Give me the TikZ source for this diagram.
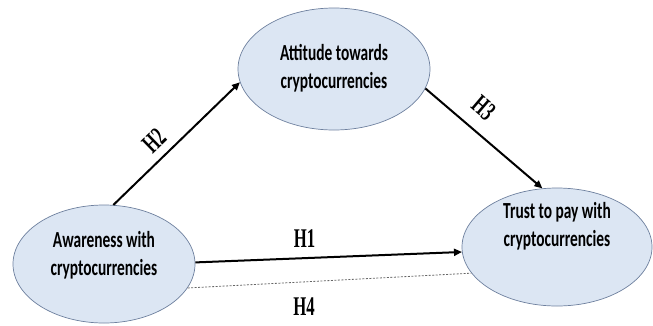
\documentclass[tikz,border=0pt]{standalone}
\usepackage{fontspec}
\setmainfont{Liberation Serif}
\newfontfamily\calibri{Carlito}
\usepackage{tikz}
\usetikzlibrary{shapes.geometric, arrows.meta, positioning}
\definecolor{ovalfill}{RGB}{220, 230, 243}
\definecolor{ovalline}{RGB}{110, 128, 158}
\tikzstyle{construct} = [ellipse, draw=ovalline, fill=ovalfill, line width=0.7pt, inner sep=0pt]
\tikzstyle{ctext} = [inner sep=0pt, font=\calibri\bfseries\fontsize{23}{28}\selectfont]
\tikzstyle{hyp} = [inner sep=2pt, font=\bfseries\fontsize{27}{27}\selectfont]
\tikzstyle{arrow} = [line width=2pt, -{Triangle[length=8pt, width=7pt]}]
\tikzstyle{weak} = [line width=0.8pt, gray!80!black, dash pattern=on 2pt off 1.5pt]

\begin{document}
\begin{tikzpicture}[x=1pt, y=-1pt]
    \useasboundingbox (0, 0) rectangle (653, 325);

    % Constructs
    \node[construct, minimum width=182pt, minimum height=118pt] (aware) at (104, 264) {};
    \node[construct, minimum width=192pt, minimum height=122pt] (attitude) at (334, 69) {};
    \node[construct, minimum width=190pt, minimum height=118pt] (trust) at (557, 247) {};

    \node[ctext] (aware-txt) at ([yshift=8pt]aware) {
        \scalebox{0.67}[1]{\begin{tabular}{c}
            Awareness with \\
            cryptocurrencies
        \end{tabular}}
    };
    \node[ctext] (attitude-txt) at (attitude) {
        \scalebox{0.67}[1]{\begin{tabular}{c}
            Attitude towards \\
            cryptocurrencies
        \end{tabular}}
    };
    \node[ctext] (trust-txt) at ([yshift=20pt]trust) {
        \scalebox{0.67}[1]{\begin{tabular}{c}
            Trust to pay with \\
            cryptocurrencies
        \end{tabular}}
    };

    % Hypotheses
    \draw[arrow] (aware.81) -- (attitude.188)
        node[hyp, pos=0.42, sloped, above=6pt] (h2) {\scalebox{0.62}[1]{H2}};
    \draw[arrow] (attitude.-12) -- (trust.104)
        node[hyp, pos=0.37, sloped, above=11pt] (h3) {\scalebox{0.62}[1]{H3}};
    \draw[arrow] (aware.1) -- (trust.183)
        node[hyp, pos=0.41, above=8pt] (h1) {\scalebox{0.62}[1]{H1}};
    \draw[weak] (aware.-16) -- (trust.197)
        node[hyp, pos=0.41, below=13pt, black] (h4) {\scalebox{0.62}[1]{H4}};
\end{tikzpicture}
\end{document}
